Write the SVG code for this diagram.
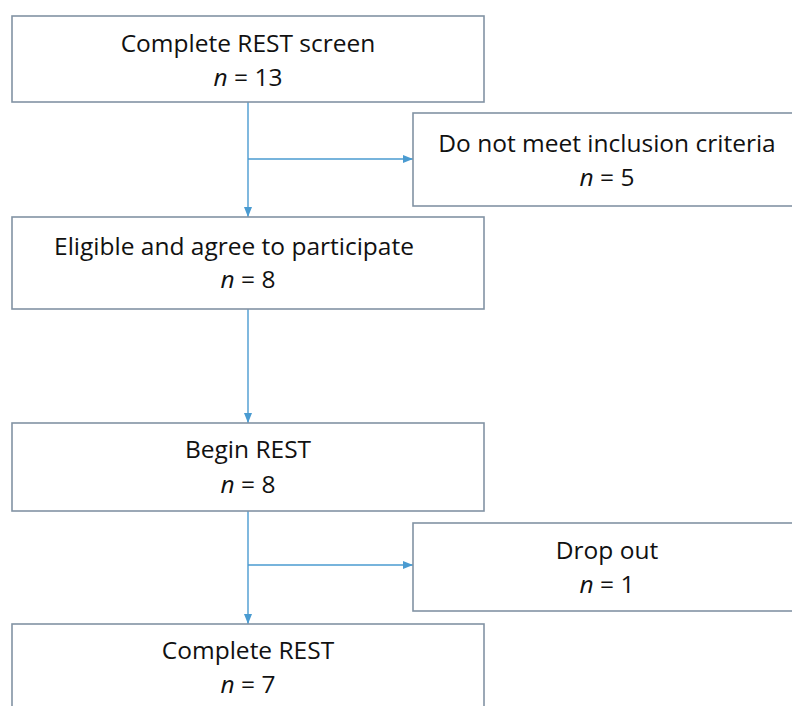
<svg xmlns="http://www.w3.org/2000/svg" width="792" height="706" viewBox="0 0 792 706">
<defs>
<marker id="arr" markerUnits="userSpaceOnUse" markerWidth="10" markerHeight="10" viewBox="0 0 10 10" refX="10" refY="5" orient="auto">
<path d="M0,1 L10,5 L0,9 Z" fill="#4a9bd1"/>
</marker>
<style>
.box{fill:#ffffff;stroke:#8293a4;stroke-width:1.6}
.t{font-family:"Open Sans","Liberation Sans",sans-serif;font-size:24.5px;fill:#111111;text-anchor:middle}
.i{font-style:italic}
.c{fill:none;stroke:#4a9bd1;stroke-width:1.4}
</style>
</defs>
<rect width="792" height="706" fill="#ffffff"/>
<g id="connectors">
<path class="c" d="M248,102 V217" marker-end="url(#arr)"/>
<path class="c" d="M248,159 H413" marker-end="url(#arr)"/>
<path class="c" d="M248,309 V423" marker-end="url(#arr)"/>
<path class="c" d="M248,511 V624" marker-end="url(#arr)"/>
<path class="c" d="M248,565 H413" marker-end="url(#arr)"/>
</g>
<g id="n1">
<rect class="box" x="12" y="16" width="472" height="86"/>
<text class="t" x="248" y="52">Complete REST screen</text>
<text class="t" x="248" y="86"><tspan class="i">n</tspan> = 13</text>
</g>
<g id="n2">
<rect class="box" x="413" y="113" width="390" height="93"/>
<text class="t" x="607" y="152">Do not meet inclusion criteria</text>
<text class="t" x="607" y="186"><tspan class="i">n</tspan> = 5</text>
</g>
<g id="n3">
<rect class="box" x="12" y="217" width="472" height="92"/>
<text class="t" x="234" y="255">Eligible and agree to participate</text>
<text class="t" x="248" y="288"><tspan class="i">n</tspan> = 8</text>
</g>
<g id="n4">
<rect class="box" x="12" y="423" width="472" height="88"/>
<text class="t" x="248" y="458">Begin REST</text>
<text class="t" x="248" y="493"><tspan class="i">n</tspan> = 8</text>
</g>
<g id="n5">
<rect class="box" x="413" y="523" width="390" height="88"/>
<text class="t" x="607" y="559">Drop out</text>
<text class="t" x="607" y="593"><tspan class="i">n</tspan> = 1</text>
</g>
<g id="n6">
<rect class="box" x="12" y="624" width="472" height="100"/>
<text class="t" x="248" y="659">Complete REST</text>
<text class="t" x="248" y="693"><tspan class="i">n</tspan> = 7</text>
</g>
</svg>
